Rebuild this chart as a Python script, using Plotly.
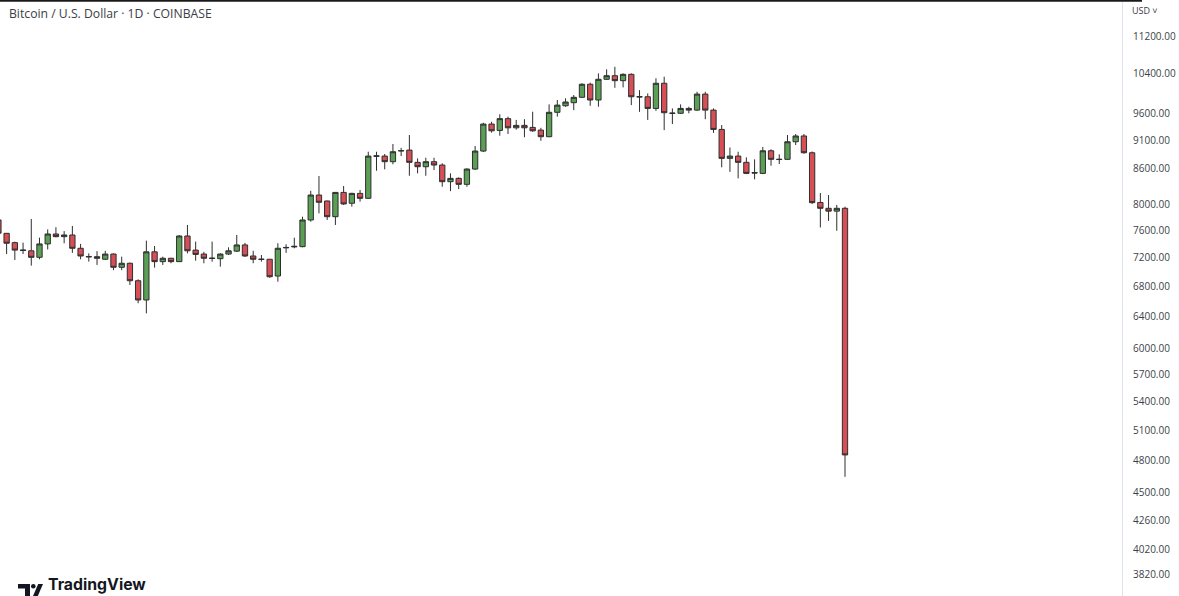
import pandas as pd
import plotly.graph_objects as go

# ---- data (daily BTC/USD, Coinbase) ----
dates = pd.date_range("2019-11-30", "2020-03-12", freq="D")

open_ = [7758, 7554, 7415, 7308, 7295, 7201, 7396, 7544, 7504, 7529,
         7332, 7213, 7210, 7173, 7248, 7059, 7116, 6872, 6613, 7280,
         7139, 7187, 7139, 7514, 7305, 7248, 7190, 7181, 7248, 7290,
         7381, 7220, 7175, 7173, 6937, 7338, 7352, 7356, 7758, 8154,
         8058, 7809, 8197, 8021, 8181, 8101, 8809, 8813, 8715, 8904,
         8919, 8704, 8628, 8715, 8657, 8374, 8430, 8330, 8588, 8902,
         9395, 9276, 9497, 9325, 9370, 9332, 9282, 9161, 9618, 9744,
         9804, 9910, 10172, 9857, 10273, 10347, 10245, 10375, 9924, 9921,
         9693, 10192, 9596, 9599, 9693, 9660, 9974, 9660, 9295, 8773,
         8813, 8704, 8527, 8514, 8907, 8759, 8756, 9069, 9174, 8872,
         8034, 7941, 7896, 7941]
high = [7789, 7559, 7430, 7415, 7773, 7489, 7613, 7646, 7588, 7666,
        7396, 7258, 7290, 7295, 7258, 7210, 7125, 6892, 7445, 7366,
        7210, 7193, 7529, 7681, 7430, 7280, 7430, 7258, 7346, 7529,
        7411, 7295, 7234, 7177, 7406, 7391, 7489, 7809, 8223, 8469,
        8063, 8203, 8302, 8191, 8236, 8890, 8890, 8850, 9028, 8959,
        9192, 8773, 8784, 8784, 8687, 8514, 8447, 8600, 8992, 9419,
        9438, 9580, 9535, 9473, 9486, 9629, 9325, 9771, 9857, 9890,
        9955, 10192, 10204, 10395, 10478, 10532, 10395, 10395, 10053, 9987,
        10294, 10326, 9693, 9771, 9725, 10020, 10020, 9693, 9376, 8965,
        8890, 8791, 8756, 8976, 8933, 8844, 9192, 9210, 9210, 8895,
        8187, 8154, 7994, 7967]
low = [7511, 7248, 7163, 7248, 7082, 7173, 7315, 7495, 7406, 7265,
       7173, 7139, 7092, 7163, 7019, 7019, 6814, 6570, 6439, 7054,
       7092, 7116, 7135, 7258, 7153, 7116, 7139, 7068, 7234, 7280,
       7206, 7116, 7139, 6913, 6859, 7265, 7332, 7346, 7732, 7861,
       7758, 7681, 7994, 7967, 8047, 8090, 8559, 8583, 8670, 8813,
       8474, 8514, 8474, 8571, 8290, 8218, 8252, 8290, 8571, 8884,
       9236, 9179, 9210, 9291, 9151, 9250, 9087, 9151, 9535, 9725,
       9660, 9896, 9744, 9725, 10259, 10100, 10108, 9757, 9627, 9473,
       9646, 9282, 9395, 9586, 9599, 9646, 9486, 9231, 8618, 8540,
       8430, 8502, 8414, 8502, 8645, 8674, 8744, 9010, 8855, 8010,
       7643, 7743, 7593, 4647]
close = [7557, 7406, 7305, 7300, 7201, 7396, 7544, 7504, 7529, 7332,
         7220, 7208, 7187, 7248, 7059, 7116, 6872, 6613, 7280, 7139,
         7187, 7139, 7514, 7295, 7243, 7187, 7185, 7248, 7295, 7381,
         7220, 7173, 7171, 6927, 7332, 7344, 7360, 7758, 8154, 8037,
         7809, 8197, 8010, 8181, 8101, 8813, 8817, 8715, 8890, 8909,
         8704, 8628, 8715, 8657, 8374, 8430, 8330, 8588, 8902, 9395,
         9269, 9497, 9325, 9370, 9325, 9269, 9161, 9618, 9757, 9818,
         9910, 10172, 9857, 10273, 10347, 10245, 10375, 9921, 9918, 9693,
         10192, 9610, 9602, 9693, 9660, 9974, 9660, 9295, 8773, 8813,
         8704, 8514, 8521, 8907, 8756, 8753, 9069, 9174, 8872, 8031,
         7941, 7896, 7941, 4854]

tick_vals = [3820, 4020, 4260, 4500, 4800, 5100, 5400, 5700, 6000, 6400,
             6800, 7200, 7600, 8000, 8600, 9100, 9600, 10400, 11200]
tick_text = [f"{v:.2f}" for v in tick_vals]

title_text = "Bitcoin / U.S. Dollar · 1D · COINBASE"

# ---- figure ----
W, H = 1179, 596
L, R, T, B = 0, 57, 0, 0
PW, PH = W - L - R, H - T - B

def px(x):
    return (x - L) / PW

def py(y):
    return (H - B - y) / PH

fig = go.Figure(go.Candlestick(
    x=dates, open=open_, high=high, low=low, close=close,
    increasing=dict(fillcolor="#5b9f57", line=dict(color="#2e2e2e", width=1)),
    decreasing=dict(fillcolor="#d64f57", line=dict(color="#2e2e2e", width=1)),
    whiskerwidth=0,
    hoverinfo="skip",
))

x0 = dates[0] + pd.Timedelta(days=0.195)
x1 = dates[0] + pd.Timedelta(days=136.7)

fig.update_layout(
    width=W, height=H,
    margin=dict(l=L, r=R, t=T, b=B, pad=0),
    paper_bgcolor="white", plot_bgcolor="white",
    showlegend=False,
    boxgap=0.355, boxgroupgap=0,
    xaxis=dict(range=[x0, x1], visible=False, rangeslider=dict(visible=False),
               showgrid=False, zeroline=False),
    yaxis=dict(type="log", range=[3.563823, 4.080422], side="right",
               tickvals=tick_vals, ticktext=tick_text, ticks="",
               showgrid=False, zeroline=False,
               showline=True, linecolor="#e0e3eb", linewidth=1,
               ticklabelstandoff=8,
               tickfont=dict(family="Open Sans, sans-serif", size=10, color="#3c3f47")),
    font=dict(family="Open Sans, sans-serif"),
)

shapes = [
    # top dark border
    dict(type="line", xref="paper", yref="paper", x0=px(0), x1=px(1142), y0=py(0.8), y1=py(0.8),
         line=dict(color="#1a1a1a", width=2)),
    # TradingView logo pieces
    dict(type="path", xref="paper", yref="paper",
         path=f"M {px(18)},{py(584)} L {px(30)},{py(584)} L {px(30)},{py(596)} L {px(25)},{py(596)} "
              f"L {px(25)},{py(588.5)} L {px(18)},{py(588.5)} Z",
         fillcolor="#131722", line=dict(width=0)),
    dict(type="circle", xref="paper", yref="paper", x0=px(31), x1=px(35.6), y0=py(588.5), y1=py(583.9),
         fillcolor="#131722", line=dict(width=0)),
    dict(type="path", xref="paper", yref="paper",
         path=f"M {px(33)},{py(596)} L {px(37.8)},{py(596)} L {px(43)},{py(584)} L {px(38.2)},{py(584)} Z",
         fillcolor="#131722", line=dict(width=0)),
]
fig.update_layout(shapes=shapes)

fig.add_annotation(xref="paper", yref="paper", x=px(7), y=py(3), xanchor="left", yanchor="top",
                   text=title_text, showarrow=False,
                   font=dict(family="Open Sans, sans-serif", size=12.2, color="#3a3d45"))
fig.add_annotation(xref="paper", yref="paper", x=px(1130), y=py(2), xanchor="left", yanchor="top",
                   text="USD ˅", showarrow=False,
                   font=dict(family="Open Sans, sans-serif", size=9, color="#3a3d45"))
fig.add_annotation(xref="paper", yref="paper", x=px(46), y=py(596), xanchor="left", yanchor="bottom",
                   text="<b>TradingView</b>", showarrow=False,
                   font=dict(family="Inter, sans-serif", size=15.8, color="#131722"))

fig.write_html("out.html", config={"displayModeBar": False},
               post_script="document.body.style.margin='0';document.body.style.overflow='hidden';")
